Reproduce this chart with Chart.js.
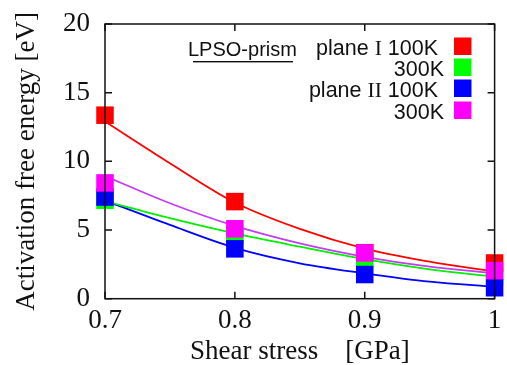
<!DOCTYPE html>
<html>
<head>
<meta charset="utf-8">
<script src="https://cdn.jsdelivr.net/npm/chart.js@4/dist/chart.umd.min.js"></script>
<style>
  html, body { margin: 0; padding: 0; background: #fff; }
  #wrap { width: 507px; height: 365px; }
</style>
</head>
<body>
<div id="wrap"><canvas id="energyChart"></canvas></div>
<script>
// -- data --
const stressPts  = [0.7, 0.8, 0.9, 1.0];
const red100     = [13.36, 7.07, 3.35, 2.6];   // plane I 100K
const green300   = [7.17, 4.6, 2.9, 1.6];      // plane I 300K
const blue100    = [7.4, 3.63, 1.76, 0.8];     // plane II 100K
const magenta300 = [8.43, 5.09, 3.33, 2.04];   // plane II 300K

// fitted curves
const fitX       = [0.7, 0.75, 0.8, 0.85, 0.9, 0.95, 1.0];
const fitRed     = [12.9, 9.86, 7.0, 5.08, 3.65, 2.7, 1.97];
const fitGreen   = [7.1, 5.86, 4.75, 3.79, 2.88, 2.14, 1.6];
const fitBlue    = [7.15, 5.37, 3.7, 2.58, 1.85, 1.24, 0.87];
const fitMagenta = [8.93, 6.95, 5.3, 4.03, 3.05, 2.33, 1.85];

const xTicks      = [0.7, 0.8, 0.9, 1.0];
const xTickLabels = ['0.7', '0.8', '0.9', '1'];
const yTicks      = [0, 5, 10, 15, 20];
const yTickLabels = ['0', '5', '10', '15', '20'];

const legendTitle  = 'LPSO-prism';
const seriesLabels = ['plane I 100K', '300K', 'plane II 100K', '300K'];

const SERIF = '"Liberation Serif", "Times New Roman", serif';
const SANS  = '"Liberation Sans", Arial, sans-serif';

const pts = ys => stressPts.map((x, i) => ({ x, y: ys[i] }));
const fit = ys => fitX.map((x, i) => ({ x, y: ys[i] }));

function curve(ys, color, order) {
  return {
    data: fit(ys), showLine: true, borderColor: color, borderWidth: 1.8,
    pointRadius: 0, cubicInterpolationMode: 'monotone', order,
  };
}
function marks(ys, color, order) {
  return {
    data: pts(ys), pointStyle: 'rect', pointRadius: 12.4,
    backgroundColor: color, borderWidth: 0, clip: false, order,
  };
}

// frame with inward ticks on all four sides
const framePlugin = {
  id: 'frame',
  afterDatasetsDraw(chart) {
    const { ctx, chartArea: a, scales: { x, y } } = chart;
    ctx.save();
    ctx.strokeStyle = '#111';
    ctx.lineWidth = 1.5;
    ctx.strokeRect(a.left, a.top, a.right - a.left, a.bottom - a.top);
    ctx.beginPath();
    xTicks.forEach(v => {
      const px = x.getPixelForValue(v);
      ctx.moveTo(px, a.bottom); ctx.lineTo(px, a.bottom - 7);
      ctx.moveTo(px, a.top);    ctx.lineTo(px, a.top + 7);
    });
    yTicks.forEach(v => {
      const py = y.getPixelForValue(v);
      ctx.moveTo(a.left, py);  ctx.lineTo(a.left + 7, py);
      ctx.moveTo(a.right, py); ctx.lineTo(a.right - 7, py);
    });
    ctx.stroke();
    ctx.restore();
  },
};

// gnuplot-like key: right aligned text, colour box at the right
const keyPlugin = {
  id: 'key',
  afterDraw(chart) {
    const { ctx } = chart;
    const rows = [
      { base: 55,  right: 438, ds: 4 },
      { base: 76,  right: 444, ds: 5 },
      { base: 97,  right: 438, ds: 6 },
      { base: 119, right: 444, ds: 7 },
    ];
    ctx.save();
    ctx.fillStyle = '#111';
    ctx.textBaseline = 'alphabetic';

    // title, underlined
    ctx.font = '20px ' + SANS;
    ctx.textAlign = 'left';
    ctx.fillText(legendTitle, 188, 56);
    ctx.fillRect(193, 61, 100, 1.4);

    rows.forEach((r, i) => {
      // words made of I's are roman numerals, drawn in serif
      const parts = seriesLabels[i].split(/(\bI+\b)/);
      let w = 0;
      const measured = parts.map(p => {
        ctx.font = (/^I+$/.test(p) ? '21.5px ' + SERIF : '21.5px ' + SANS);
        const m = ctx.measureText(p).width;
        w += m;
        return { p, f: ctx.font, m };
      });
      let xx = r.right - w;
      measured.forEach(s => {
        ctx.font = s.f;
        ctx.fillStyle = '#111';
        ctx.fillText(s.p, xx, r.base);
        xx += s.m;
      });
      ctx.fillStyle = chart.data.datasets[r.ds].backgroundColor;
      ctx.fillRect(454, r.base - 17.5, 17.5, 17.5);
    });
    ctx.restore();
  },
};

new Chart(document.getElementById('energyChart'), {
  type: 'scatter',
  data: {
    datasets: [
      curve(fitRed, '#ff0000', 20),
      curve(fitGreen, '#00ee00', 21),
      curve(fitBlue, '#0000ff', 22),
      curve(fitMagenta, '#c43cf5', 19),
      marks(red100, '#ff0000', 4),
      marks(green300, '#00ff00', 3),
      marks(blue100, '#0000ff', 2),
      marks(magenta300, '#ff00ff', 1),
    ],
  },
  options: {
    responsive: true,
    maintainAspectRatio: false,
    animation: false,
    layout: { padding: { left: 0, top: 24, right: 9, bottom: 0 } },
    plugins: { legend: { display: false }, tooltip: { enabled: false } },
    scales: {
      x: {
        type: 'linear', min: 0.7, max: 1.0,
        afterBuildTicks: s => { s.ticks = xTicks.map(v => ({ value: v })); },
        afterFit: s => { s.height = 66.3; s.paddingLeft = 0; s.paddingRight = 0; },
        grid: { display: false, drawTicks: false },
        border: { display: false },
        ticks: {
          autoSkip: false, maxRotation: 0, padding: 6, color: '#111',
          font: { family: SERIF, size: 27 },
          callback: (v, i) => xTickLabels[i],
        },
        title: {
          display: true, text: 'Shear stress    [GPa]', color: '#111',
          font: { family: SERIF, size: 27, lineHeight: 1.0 },
          padding: { top: 0, bottom: 0 },
        },
      },
      y: {
        type: 'linear', min: 0, max: 20,
        afterBuildTicks: s => { s.ticks = yTicks.map(v => ({ value: v })); },
        afterFit: s => { s.width = 105; s.paddingTop = 0; s.paddingBottom = 0; },
        grid: { display: false, drawTicks: false },
        border: { display: false },
        ticks: {
          autoSkip: false, padding: 15, color: '#111',
          font: { family: SERIF, size: 27 },
          callback: (v, i) => yTickLabels[i],
        },
        title: {
          display: true, text: 'Activation free energy [eV]', color: '#111',
          font: { family: SERIF, size: 27, lineHeight: 1.0 },
          padding: { top: 13, bottom: 0 },
        },
      },
    },
  },
  plugins: [framePlugin, keyPlugin],
});
</script>
</body>
</html>
